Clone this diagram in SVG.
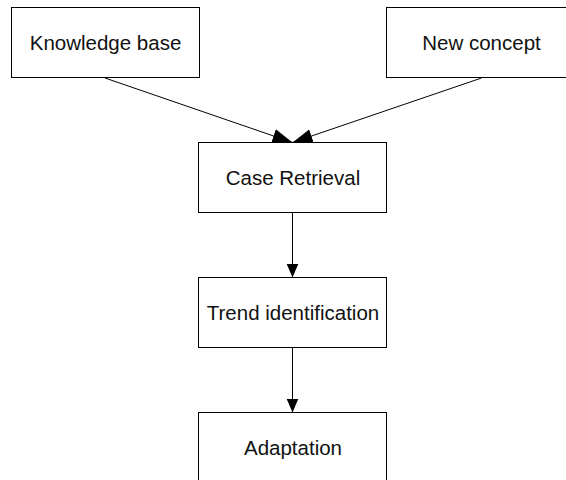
<svg xmlns="http://www.w3.org/2000/svg" width="566" height="480" viewBox="0 0 566 480">
  <style>
    .box { fill: #ffffff; stroke: #000000; stroke-width: 1; }
    .label { font-family: "Liberation Sans", Arial, sans-serif; font-size: 20.5px; fill: #111111; text-anchor: middle; }
    .edge { stroke: #000000; stroke-width: 1; fill: none; }
  </style>
  <defs>
    <marker id="arrowSlant" markerUnits="userSpaceOnUse" markerWidth="21" markerHeight="16" refX="20" refY="8" orient="auto">
      <path d="M0,1 L20,8 L0,15 Z" fill="#000000"/>
    </marker>
    <marker id="arrowDown" markerUnits="userSpaceOnUse" markerWidth="14" markerHeight="13" refX="14" refY="6.5" orient="auto">
      <path d="M0,0.5 L14,6.5 L0,12.5 Z" fill="#000000"/>
    </marker>
  </defs>

  <!-- connectors -->
  <g id="connectors">
    <line class="edge" x1="105" y1="78" x2="292.5" y2="142.5" marker-end="url(#arrowSlant)"/>
    <line class="edge" x1="481.5" y1="78" x2="292.5" y2="142.5" marker-end="url(#arrowSlant)"/>
    <line class="edge" x1="292.5" y1="212.5" x2="292.5" y2="277.5" marker-end="url(#arrowDown)"/>
    <line class="edge" x1="292.5" y1="347.5" x2="292.5" y2="412.5" marker-end="url(#arrowDown)"/>
  </g>

  <!-- nodes -->
  <g id="knowledge-base">
    <rect class="box" x="11.5" y="7.5" width="188" height="70"/>
    <text class="label" x="105.5" y="50">Knowledge base</text>
  </g>
  <g id="new-concept">
    <rect class="box" x="386.5" y="7.5" width="190" height="70"/>
    <text class="label" x="481.5" y="50">New concept</text>
  </g>
  <g id="case-retrieval">
    <rect class="box" x="198.5" y="142.5" width="188" height="70"/>
    <text class="label" x="293" y="185">Case Retrieval</text>
  </g>
  <g id="trend-identification">
    <rect class="box" x="198.5" y="277.5" width="188" height="70"/>
    <text class="label" x="293" y="320">Trend identification</text>
  </g>
  <g id="adaptation">
    <rect class="box" x="198.5" y="412.5" width="188" height="70"/>
    <text class="label" x="293" y="455">Adaptation</text>
  </g>
</svg>
